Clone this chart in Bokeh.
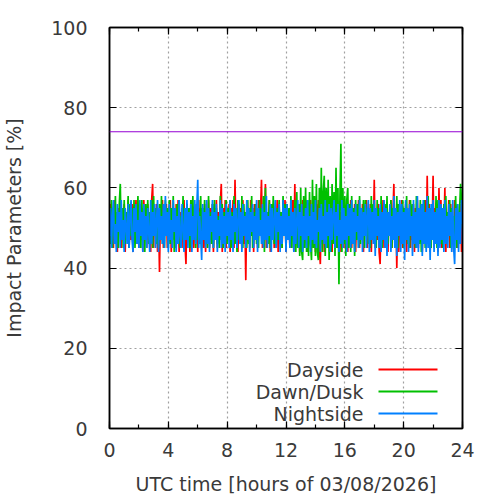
from bokeh.plotting import figure
from bokeh.models import (Range1d, LinearAxis, SingleIntervalTicker, Span, Label,
                          BoxAnnotation)
from bokeh.embed import file_html
from bokeh.resources import INLINE

# ---- data ----
series_names = ["Dayside", "Dawn/Dusk", "Nightside"]
series_colors = ["#ff0000", "#00c000", "#0080ff"]
threshold = 74
hours_span = 24

dayside = [
    46,56,48,54,45,57,47,53,44,55,49,57,45,54,47,56,44,53,48,57,
    45,55,47,56,44,53,48,57,46,54,45,56,47,55,44,57,48,53,45,56,
    47,54,44,57,61,45,55,48,56,44,53,39,55,47,57,45,54,48,56,45,
    53,47,57,44,55,48,54,45,56,47,57,44,54,48,55,45,57,46,41,56,
    47,55,44,57,48,53,45,56,47,54,44,57,46,55,48,53,45,56,44,54,
    48,57,45,55,47,56,44,53,48,57,45,54,47,56,61,44,55,48,57,45,
    54,47,56,44,55,48,57,45,62,47,54,44,56,48,55,45,57,46,53,37,
    56,47,54,45,57,48,55,44,56,47,53,45,57,48,54,62,45,56,47,61,
    45,54,48,57,44,55,47,56,45,53,48,57,44,55,47,54,45,56,48,57,
    44,55,47,53,45,56,48,57,44,61,46,55,47,56,44,54,48,57,45,55,
    47,56,44,54,48,57,45,55,47,53,44,56,48,57,45,41,54,47,56,44,
    55,48,57,45,54,47,56,44,53,48,57,45,55,47,56,44,54,48,57,45,
    53,47,56,44,55,48,57,45,54,47,56,44,53,48,57,45,55,47,56,44,
    54,48,57,45,55,47,56,44,53,48,62,45,55,47,56,44,41,54,48,57,
    45,55,47,56,44,54,48,57,45,53,61,46,55,40,56,44,54,48,57,45,
    55,47,56,44,54,48,57,45,53,47,56,44,55,48,57,45,54,47,56,44,
    53,48,57,45,63,47,56,44,54,48,63,45,55,47,56,44,60,48,57,45,
    55,47,60,44,54,48,57,45,56,47,53,44,57,48,55,45,54,47,56,44,
    52]

dawn_dusk = [
    51,46,57,45,55,48,58,46,54,45,56,61,47,55,45,57,46,54,48,58,
    45,56,48,55,46,57,45,53,48,58,46,54,45,57,47,55,44,56,48,57,
    46,54,47,57,45,58,48,55,46,53,45,56,47,58,46,54,45,57,49,55,
    45,57,46,55,47,58,44,54,48,56,46,57,45,53,47,58,46,55,48,56,
    47,55,45,57,46,58,48,53,45,56,47,54,46,58,45,55,48,57,46,54,
    45,58,47,54,46,56,45,57,48,55,46,53,45,58,47,56,45,54,48,57,
    46,55,48,57,45,54,47,58,46,55,44,57,47,53,46,58,45,56,48,54,
    45,57,46,55,48,58,45,54,47,56,46,53,45,57,48,55,46,58,44,60,
    47,54,46,57,45,56,48,58,46,53,45,55,47,57,46,54,45,58,48,56,
    45,56,47,55,46,58,45,54,48,57,44,59,45,56,43,60,44,42,58,45,
    60,44,57,43,59,46,42,62,45,58,43,61,44,42,60,46,65,44,59,63,
    43,60,45,62,42,58,44,61,46,59,43,65,45,60,36,58,71,44,60,46,
    58,43,57,60,45,56,44,58,46,55,43,57,47,56,45,58,46,54,48,57,
    45,57,48,55,46,53,45,58,47,56,46,54,45,57,48,55,46,58,45,54,
    47,56,45,58,46,54,48,57,45,55,47,53,46,58,45,56,48,54,46,57,
    45,55,47,58,46,53,45,57,48,56,46,54,45,58,47,55,46,57,44,56,
    46,57,45,54,48,58,46,55,45,56,47,53,46,58,45,57,48,54,46,55,
    45,56,47,58,46,54,48,57,45,55,46,53,47,58,45,56,46,54,61,57,
    50]

nightside = [
    48,55,45,53,57,46,51,44,56,49,54,45,57,47,52,44,55,50,46,56,
    45,53,57,47,44,55,49,56,46,52,45,57,48,54,44,56,47,53,45,55,
    49,44,57,46,54,48,56,45,52,57,44,55,47,53,46,56,45,58,48,54,
    44,56,47,52,45,57,49,55,44,53,46,57,48,45,56,50,44,55,47,57,
    45,54,48,56,44,53,47,57,46,55,62,45,53,48,42,56,47,54,45,57,
    46,55,44,53,49,57,45,54,47,56,44,52,48,57,45,55,46,53,44,56,
    48,54,45,57,47,53,44,56,49,55,45,52,57,46,54,44,56,48,53,45,
    57,47,55,44,54,49,56,45,53,47,57,44,55,48,52,46,56,45,54,47,
    58,45,53,48,56,44,55,47,52,57,45,54,49,56,44,53,46,57,48,55,
    44,56,47,53,45,57,48,54,44,55,46,52,57,45,54,48,56,44,53,47,
    55,45,57,48,53,44,56,47,54,46,57,45,52,49,55,44,56,47,53,46,
    57,45,54,48,56,44,55,47,53,57,45,54,48,56,44,52,46,57,45,55,
    47,53,44,56,48,55,45,57,46,54,44,56,49,53,45,57,47,55,44,54,
    48,56,45,53,57,44,55,47,54,46,57,43,55,48,53,45,56,44,54,47,
    57,45,55,43,54,48,56,44,53,47,58,45,55,43,54,48,57,44,56,46,
    54,42,57,47,55,44,56,48,53,43,57,46,54,45,58,44,55,47,56,43,
    57,46,54,44,58,45,55,42,56,47,57,44,54,46,55,43,57,45,56,47,
    55,44,57,46,53,45,56,48,54,44,57,45,41,55,47,56,44,54,46,57,
    51]

all_series = [dayside, dawn_dusk, nightside]

FONT = "DejaVu Sans"
TXT = "#3a3a3a"
FS = "19px"

p = figure(frame_width=353, frame_height=401,
           x_range=Range1d(0, hours_span), y_range=Range1d(0, 100),
           output_backend="svg", toolbar_location=None,
           min_border_left=107, min_border_right=32,
           min_border_top=27, min_border_bottom=64,
           x_axis_label="UTC time [hours of 03/08/2026]",
           y_axis_label="Impact Parameters [%]")
p.background_fill_color = "white"
p.border_fill_color = "white"
p.outline_line_color = "black"
p.outline_line_width = 1.5

for vals, col in zip(all_series, series_colors):
    n = len(vals)
    xs = [i * hours_span / (n - 1) for i in range(n)]
    p.line(xs, vals, line_color=col, line_width=1.7)

p.add_layout(Span(location=threshold, dimension="width",
                  line_color="#9400d3", line_width=1.2))

xt = SingleIntervalTicker(interval=4, num_minor_ticks=2)
yt = SingleIntervalTicker(interval=20, num_minor_ticks=1)

def style_axis(ax, show_labels=True):
    ax.axis_line_color = "black"
    ax.axis_line_width = 1.5
    ax.major_tick_in = 7
    ax.major_tick_out = 0
    ax.minor_tick_in = 4
    ax.minor_tick_out = 0
    ax.major_tick_line_color = "black"
    ax.major_tick_line_width = 1.2
    ax.minor_tick_line_width = 1.2
    ax.major_label_text_font = FONT
    ax.major_label_text_font_size = FS
    ax.major_label_text_color = TXT
    ax.axis_label_text_font = FONT
    ax.axis_label_text_font_size = FS
    ax.axis_label_text_font_style = "normal"
    ax.axis_label_text_color = TXT
    if not show_labels:
        ax.major_label_text_font_size = "0px"
        ax.major_label_text_alpha = 0

p.xaxis.ticker = xt
p.yaxis.ticker = yt
for ax in p.xaxis:
    style_axis(ax)
    ax.major_label_standoff = 14
    ax.axis_label_standoff = 13
for ax in p.yaxis:
    style_axis(ax)
    ax.minor_tick_line_color = None
    ax.major_label_standoff = 22
    ax.axis_label_standoff = 23

top = LinearAxis(ticker=SingleIntervalTicker(interval=4, num_minor_ticks=2))
style_axis(top, False)
right = LinearAxis(ticker=SingleIntervalTicker(interval=20, num_minor_ticks=1))
style_axis(right, False)
right.minor_tick_line_color = None
p.add_layout(top, "above")
p.add_layout(right, "right")

p.xgrid.ticker = xt
p.ygrid.ticker = yt
for g in (p.xgrid[0], p.ygrid[0]):
    g.grid_line_color = "#a0a0a0"
    g.grid_line_dash = "2 3"
    g.grid_line_width = 1.2

# custom legend: text on the left, line sample on the right (gnuplot style)
row_y = [59, 37, 15]
for name, col, yy in zip(series_names, series_colors, row_y):
    p.add_layout(Label(x=254, y=yy, x_units="screen", y_units="screen",
                       text=name, text_align="right", text_baseline="middle",
                       text_font=FONT, text_font_size=FS, text_color=TXT))
    p.add_layout(BoxAnnotation(left=269, right=328, bottom=yy - 1, top=yy + 1,
                               left_units="screen", right_units="screen",
                               bottom_units="screen", top_units="screen",
                               fill_color=col, fill_alpha=1.0, line_alpha=0))

open("out.html", "w").write(file_html(p, INLINE))
